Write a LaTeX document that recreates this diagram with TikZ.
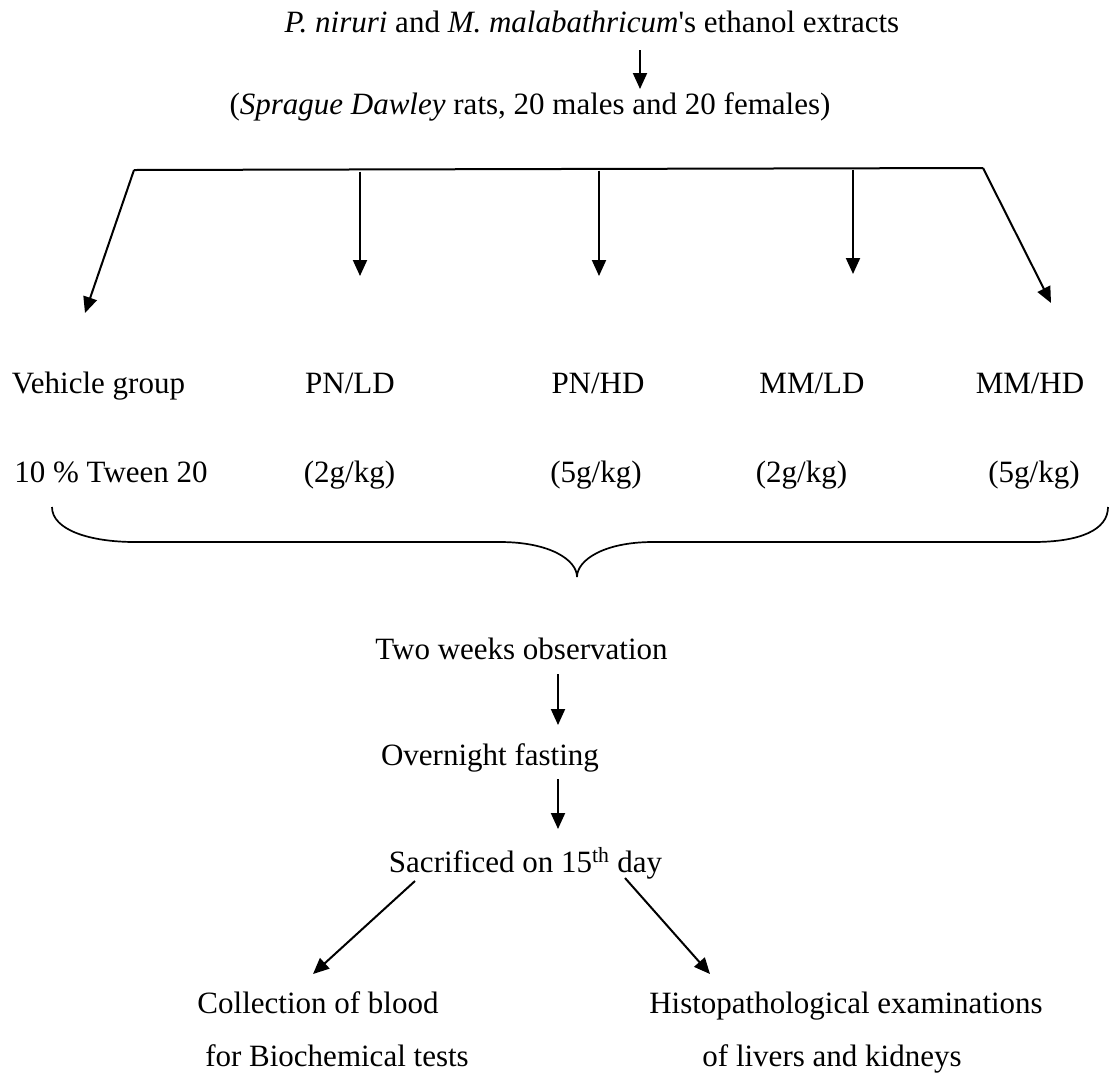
\documentclass[tikz,border=0pt]{standalone}
\usepackage{fontspec}
\setmainfont{Liberation Serif}
\usetikzlibrary{arrows.meta}
\newcommand{\sq}{{\addfontfeature{Ligatures=TeXOff}'}}
\begin{document}
\begin{tikzpicture}[x=1pt,y=-1pt,
  lbl/.style={inner sep=0pt,anchor=base,font=\fontsize{31}{36}\selectfont},
  arr/.style={line width=2pt,-{Triangle[length=16pt,width=14pt]}},
  bar/.style={line width=2pt},
  brc/.style={line width=1.7pt}]
\useasboundingbox (0,0) rectangle (1110,1077);
% texts
\node[lbl] (title) at (592,32) {\textit{P. niruri} and \textit{M. malabathricum}\sq s ethanol extracts};
\node[lbl] (rats) at (530,114) {(\textit{Sprague Dawley} rats, 20 males and 20 females)};
\node[lbl] (veh) at (98.5,393) {Vehicle group};
\node[lbl] (pnld) at (350,393) {PN/LD};
\node[lbl] (pnhd) at (598,393) {PN/HD};
\node[lbl] (mmld) at (812,393) {MM/LD};
\node[lbl] (mmhd) at (1030,393) {MM/HD};
\node[lbl] (vehd) at (111,482) {10 \% Tween 20};
\node[lbl] (pnldd) at (349.5,482) {(2g/kg)};
\node[lbl] (pnhdd) at (596,482) {(5g/kg)};
\node[lbl] (mmldd) at (801.5,482) {(2g/kg)};
\node[lbl] (mmhdd) at (1034,482) {(5g/kg)};
\node[lbl] (obs) at (521.5,659) {Two weeks observation};
\node[lbl] (fast) at (490,765) {Overnight fasting};
\node[lbl] (sac) at (525.5,872) {Sacrificed on 15\textsuperscript{th} day};
\node[lbl] (blood) at (318,1013) {Collection of blood};
\node[lbl] (blood2) at (337,1066) {for Biochemical tests};
\node[lbl] (histo) at (846,1013) {Histopathological examinations};
\node[lbl] (histo2) at (832,1066) {of livers and kidneys};
% coordinates
\coordinate (a0s) at (640,50);
\coordinate (a0e) at (640,89);
\coordinate (bl) at (134,170);
\coordinate (br) at (983,168);
\coordinate (b1e) at (85,313);
\coordinate (b2s) at (360,171.5);
\coordinate (b2e) at (360,276);
\coordinate (b3s) at (599,170.5);
\coordinate (b3e) at (599,276);
\coordinate (b4s) at (853,169.5);
\coordinate (b4e) at (853,274);
\coordinate (b5e) at (1051,303);
\coordinate (c1s) at (558,674);
\coordinate (c1e) at (558,725);
\coordinate (c2s) at (558,779);
\coordinate (c2e) at (558,829);
\coordinate (dls) at (415,881);
\coordinate (dle) at (313,974);
\coordinate (drs) at (625,878);
\coordinate (dre) at (710,974);
% connectors
\draw[arr] (a0s) -- (a0e);
\draw[bar] (bl) -- (br);
\draw[arr] (bl) -- (b1e);
\draw[arr] (b2s) -- (b2e);
\draw[arr] (b3s) -- (b3e);
\draw[arr] (b4s) -- (b4e);
\draw[arr] (br) -- (b5e);
\draw[arr] (c1s) -- (c1e);
\draw[arr] (c2s) -- (c2e);
\draw[arr] (dls) -- (dle);
\draw[arr] (drs) -- (dre);
% brace
\draw[brc] (52,507) .. controls (52,530) and (90,542) .. (135,542) -- (500,542)
  .. controls (550,542) and (577,560) .. (577,577)
  .. controls (577,560) and (604,542) .. (653,542) -- (1033,542)
  .. controls (1080,542) and (1108,530) .. (1108,507);
\end{tikzpicture}
\end{document}
